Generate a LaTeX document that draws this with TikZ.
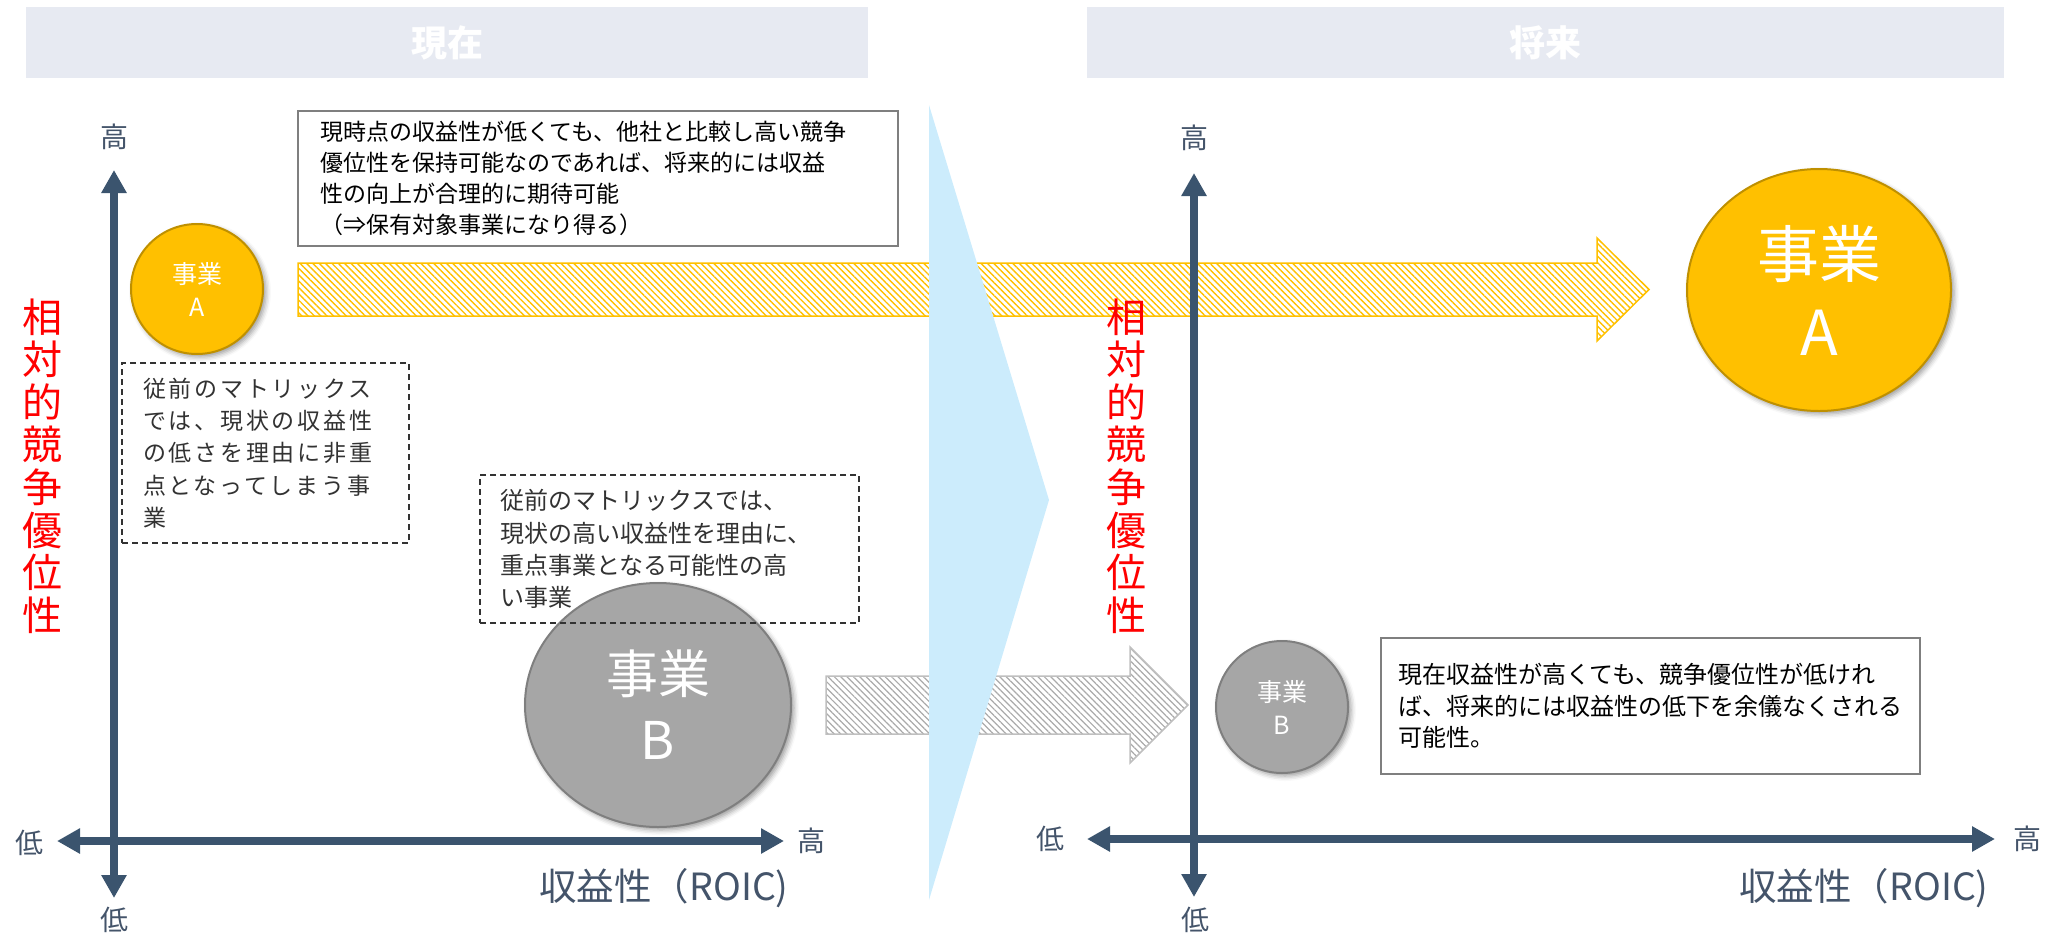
\documentclass[tikz,border=0pt]{standalone}
\usepackage{fontspec}
\setmainfont{Noto Sans CJK JP}
\newfontfamily\cjkls[LetterSpace=12]{Noto Sans CJK JP}
\usetikzlibrary{arrows.meta,patterns.meta,shapes.geometric,shadows.blur}
\definecolor{hdr}{RGB}{231,234,242}
\definecolor{axiscol}{RGB}{59,84,110}
\definecolor{axtxt}{RGB}{68,84,106}
\definecolor{chev}{RGB}{204,236,252}
\definecolor{gold}{RGB}{255,192,0}
\definecolor{golddark}{RGB}{191,144,0}
\definecolor{bizgrey}{RGB}{166,166,166}
\definecolor{bizgreyd}{RGB}{127,127,127}
\definecolor{hatchgrey}{RGB}{170,170,170}
\definecolor{hatchgreyb}{RGB}{191,191,191}
\definecolor{dtxt}{RGB}{50,50,50}
\definecolor{boxline}{RGB}{127,127,127}
\tikzset{
  hdrbar/.style={fill=hdr, draw=none},
  hdrtext/.style={text=white, font=\fontsize{36}{40}\selectfont\bfseries},
  axisline/.style={line width=8pt, draw=axiscol,
    {Triangle[width=24pt,length=23pt]}-{Triangle[width=24pt,length=23pt]}},
  axislab/.style={text=axtxt, font=\fontsize{28}{30}\selectfont, inner sep=0pt},
  roiclab/.style={text=axtxt, font=\fontsize{37.5}{40}\selectfont, inner sep=0pt},
  redlab/.style={text=red, font=\fontsize{40}{42.6}\selectfont, align=center, inner sep=0pt},
  bizA/.style={ellipse, fill=gold, draw=golddark, line width=2pt, inner sep=0pt,
    text=white, align=center, blur shadow={shadow xshift=3pt, shadow yshift=-3pt, shadow blur radius=5pt}},
  bizB/.style={ellipse, fill=bizgrey, draw=bizgreyd, line width=2pt, inner sep=0pt,
    text=white, align=center, blur shadow={shadow xshift=3pt, shadow yshift=-3pt, shadow blur radius=5pt}},
  callout/.style={rectangle, draw=boxline, line width=1.5pt, fill=white, align=left,
    text=black, inner ysep=0pt},
  dashbox/.style={rectangle, draw=dtxt, line width=1.5pt, dash pattern=on 6pt off 4pt,
    align=left, text=dtxt, inner ysep=0pt},
  goldarrow/.style={draw=gold, line width=1.5pt,
    pattern={Lines[angle=-45,distance=4.5pt,line width=1.4pt]}, pattern color=gold},
  greyarrow/.style={draw=hatchgreyb, line width=1.5pt,
    pattern={Lines[angle=-45,distance=4.5pt,line width=1.2pt]}, pattern color=hatchgrey},
}
\begin{document}
\begin{tikzpicture}[x=1pt,y=-1pt]
\useasboundingbox (0,0) rectangle (2051,937);
% headers
\fill[hdrbar] (26,7) rectangle (868,78);
\fill[hdrbar] (1087,7) rectangle (2004,78);
\node[hdrtext] (hnow) at (447,43) {現在};
\node[hdrtext] (hfut) at (1545,43) {将来};
% hatched arrows
\draw[goldarrow] (298,263) -- (1597,263) -- (1597,238) -- (1649,289.5) -- (1597,341) -- (1597,316) -- (298,316) -- cycle;
\draw[greyarrow] (826,676) -- (1130,676) -- (1130,647) -- (1188,705) -- (1130,763) -- (1130,734) -- (826,734) -- cycle;
% chevron
\fill[chev] (929,105) -- (1049,500) -- (929,900) -- cycle;
% left axes
\coordinate (lvt) at (114,170);
\coordinate (lvb) at (114,898);
\coordinate (lhl) at (57,841);
\coordinate (lhr) at (784,841);
\draw[axisline] (lvb) -- (lvt);
\draw[axisline] (lhl) -- (lhr);
\node[axislab] (lhigh) at (114,137) {高};
\node[axislab] (llowb) at (114,920) {低};
\node[axislab] (llowl) at (30,843) {低};
\node[axislab] (lhighr) at (811,841) {高};
\node[roiclab] (lroic) at (664,888) {収益性（ROIC)};
\node[redlab] (lred) at (42,466) {相\\対\\的\\競\\争\\優\\位\\性};
% right axes
\coordinate (rvt) at (1194,173);
\coordinate (rvb) at (1194,897);
\coordinate (rhl) at (1087,839);
\coordinate (rhr) at (1995,839);
\draw[axisline] (rvb) -- (rvt);
\draw[axisline] (rhl) -- (rhr);
\node[axislab] (rhigh) at (1194,138) {高};
\node[axislab] (rlowb) at (1195,920) {低};
\node[axislab] (rlowl) at (1050,839) {低};
\node[axislab] (rhighr) at (2027,839) {高};
\node[roiclab] (rroic) at (1864,888) {収益性（ROIC)};
\node[redlab] (rred) at (1126,466) {相\\対\\的\\競\\争\\優\\位\\性};
% businesses
\node[bizA, minimum width=132pt, minimum height=130pt, font=\fontsize{25}{33}\selectfont] (aL) at (197,289) {事業\\A};
\node[bizB, minimum width=266pt, minimum height=244pt, font=\fontsize{52}{66}\selectfont] (bL) at (658,705) {事業\\B};
\node[bizA, minimum width=264pt, minimum height=242pt, font=\fontsize{62}{78}\selectfont] (aR) at (1819,290) {事業\\A};
\node[bizB, minimum width=132pt, minimum height=132pt, font=\fontsize{25}{33}\selectfont] (bR) at (1282,707) {事業\\B};
% boxes
\node[callout, text width=556pt, inner xsep=22pt, minimum height=135pt,
  font=\fontsize{23}{31}\selectfont] (c1) at (598,178.5)
  {現時点の収益性が低くても、他社と比較し高い競争\\優位性を保持可能なのであれば、将来的には収益\\性の向上が合理的に期待可能\\（⇒保有対象事業になり得る）};
\node[dashbox, text width=245pt, inner xsep=21pt, minimum height=180pt,
  font=\cjkls\fontsize{23}{32.3}\selectfont] (d1) at (265.5,453)
  {従前のマトリックス\\では、現状の収益性\\の低さを理由に非重\\点となってしまう事\\業};
\node[dashbox, text width=339pt, inner xsep=20pt, minimum height=148pt,
  font=\fontsize{24}{32.3}\selectfont] (d2) at (669.5,549)
  {従前のマトリックスでは、\\現状の高い収益性を理由に、\\重点事業となる可能性の高\\い事業};
\node[callout, text width=505pt, inner xsep=17pt, minimum height=136pt,
  font=\fontsize{24}{31.5}\selectfont] (c2) at (1650.5,706)
  {現在収益性が高くても、競争優位性が低けれ\\ば、将来的には収益性の低下を余儀なくされる\\可能性。};
\end{tikzpicture}
\end{document}
